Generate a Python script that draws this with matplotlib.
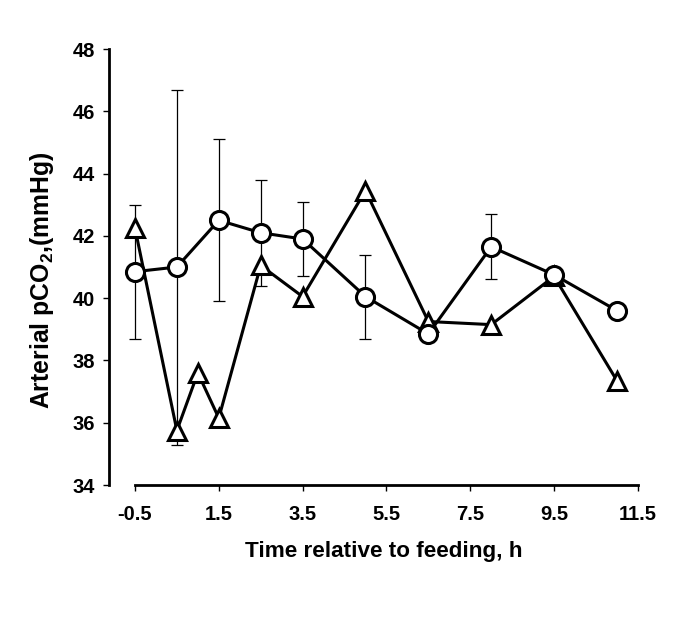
"""
Arterial pCO2 around feeding: two groups, circles with SD bars and triangles.
"""

import matplotlib

matplotlib.use("Agg")
import matplotlib.pyplot as plt
import numpy as np

# time relative to feeding (h)
circle_time = [-0.5, 0.5, 1.5, 2.5, 3.5, 5.0, 6.5, 8.0, 9.5, 11.0]
circle_pco2 = [40.85, 41.0, 42.5, 42.1, 41.9, 40.05, 38.85, 41.65, 40.75, 39.6]
circle_err = [2.15, 5.7, 2.6, 1.7, 1.2, 1.35, 0.0, 1.05, 0.0, 0.0]

triangle_time = [-0.5, 0.5, 1.0, 1.5, 2.5, 3.5, 5.0, 6.5, 8.0, 9.5, 11.0]
triangle_pco2 = [42.25, 35.75, 37.6, 36.15, 41.05, 40.05, 43.45, 39.25, 39.15, 40.7, 37.35]

x_ticks = [-0.5, 1.5, 3.5, 5.5, 7.5, 9.5, 11.5]
x_tick_labels = ["-0.5", "1.5", "3.5", "5.5", "7.5", "9.5", "11.5"]
y_ticks = [34, 36, 38, 40, 42, 44, 46, 48]

plt.rcParams.update(
    {
        "font.family": ["Liberation Sans", "DejaVu Sans"],
        "font.weight": "bold",
        "mathtext.fontset": "custom",
        "mathtext.rm": "Liberation Sans:bold",
        "mathtext.it": "Liberation Sans:bold",
        "mathtext.bf": "Liberation Sans:bold",
    }
)

fig = plt.figure(figsize=(6.85, 6.23), dpi=100)
ax = fig.add_axes([0.1591, 0.2215, 0.7752, 0.6998])

ax.errorbar(
    circle_time, circle_pco2, yerr=circle_err,
    fmt="none", ecolor="black", elinewidth=0.9, capsize=4.5, capthick=0.9, zorder=2,
)
ax.plot(
    triangle_time, triangle_pco2, color="black", linewidth=2.2,
    marker="^", markersize=13, markerfacecolor="white", markeredgecolor="black",
    markeredgewidth=2.2, zorder=3,
)
ax.plot(
    circle_time, circle_pco2, color="black", linewidth=2.2,
    marker="o", markersize=13, markerfacecolor="white", markeredgecolor="black",
    markeredgewidth=2.2, zorder=4,
)

ax.set_xlim(-1.12, 11.55)
ax.set_ylim(34, 48)
ax.set_xticks(x_ticks)
ax.set_xticklabels(x_tick_labels)
ax.set_yticks(y_ticks)

for side in ("top", "right"):
    ax.spines[side].set_visible(False)
for side in ("left", "bottom"):
    ax.spines[side].set_linewidth(2.0)
ax.spines["bottom"].set_bounds(-0.5, 11.5)

ax.tick_params(axis="both", direction="out", length=4.3, width=1.0, labelsize=14.5)
ax.tick_params(axis="x", pad=10)
ax.tick_params(axis="y", pad=6)

ax.set_xlabel("Time relative to feeding, h", fontsize=16.2, fontweight="bold")
ax.xaxis.set_label_coords(0.5165, -0.128)
ax.set_ylabel("Arterial pCO$_2$,(mmHg)", fontsize=17.8, fontweight="bold")
ax.yaxis.set_label_coords(-0.10, 0.47)

fig.savefig("out.png", dpi=100, facecolor="white")
